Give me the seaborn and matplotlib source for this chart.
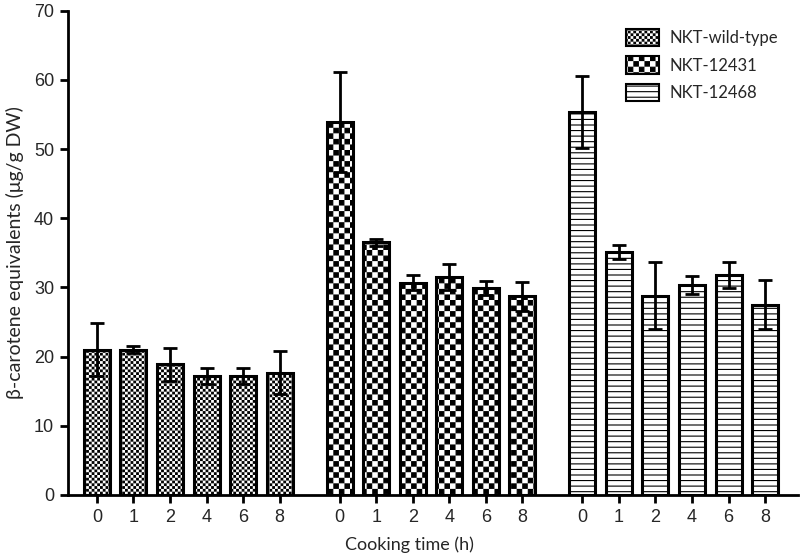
import matplotlib
matplotlib.use("Agg")
import matplotlib.hatch as mhatch
import matplotlib.pyplot as plt
import numpy as np
import pandas as pd
import seaborn as sns
from matplotlib.patches import Patch
from matplotlib.path import Path

# values (mean and SD, µg/g DW)
times = ["0", "1", "2", "4", "6", "8"]
strains = ["NKT-wild-type", "NKT-12431", "NKT-12468"]
wild_mean = [21.0, 21.0, 18.9, 17.2, 17.2, 17.7]
wild_sd = [3.8, 0.5, 2.4, 1.1, 1.2, 3.1]
m12431_mean = [53.9, 36.5, 30.7, 31.5, 29.9, 28.7]
m12431_sd = [7.2, 0.45, 1.1, 1.9, 1.0, 2.1]
m12468_mean = [55.3, 35.1, 28.8, 30.4, 31.8, 27.5]
m12468_sd = [5.2, 1.0, 4.8, 1.3, 1.9, 3.5]

HATCH_LW = 0.8


class Checker(mhatch.HatchPatternBase):
    """Filled checkerboard hatch (char -> cells per inch)."""
    char = "O"
    cells = 18

    def __init__(self, hatch, density):
        self.n = hatch.count(self.char) * self.cells
        self.num_vertices = (self.n * self.n // 2) * 5

    def set_vertices_and_codes(self, vertices, codes):
        s = 1.0 / self.n
        d = HATCH_LW / 72 / 2  # the stroke makes squares grow, so shrink them
        k = 0
        for i in range(self.n):
            for j in range(self.n):
                if (i + j) % 2:
                    continue
                x0, x1 = j * s + d, (j + 1) * s - d
                y0, y1 = i * s + d, (i + 1) * s - d
                vertices[k:k + 5] = [[x0, y0], [x1, y0], [x1, y1], [x0, y1], [x0, y0]]
                codes[k:k + 5] = [Path.MOVETO, Path.LINETO, Path.LINETO,
                                  Path.LINETO, Path.CLOSEPOLY]
                k += 5


class FineChecker(Checker):
    char = "o"
    cells = 36


mhatch._hatch_types = [mhatch.HorizontalHatch, mhatch.VerticalHatch,
                       mhatch.NorthEastHatch, mhatch.SouthEastHatch,
                       FineChecker, Checker,
                       mhatch.SmallFilledCircles, mhatch.Stars]

hatches = {"NKT-wild-type": "o", "NKT-12431": "O", "NKT-12468": "---"}

sns.set_style("ticks")
plt.rcParams["font.family"] = ["Liberation Sans", "DejaVu Sans"]
plt.rcParams["hatch.color"] = "black"
plt.rcParams["hatch.linewidth"] = HATCH_LW

means = [wild_mean, m12431_mean, m12468_mean]
sds = [wild_sd, m12431_sd, m12468_sd]
group_step = 6.64
rows = []
for g, strain in enumerate(strains):
    for i, t in enumerate(times):
        rows.append(dict(strain=strain, time=t, pos=g * group_step + i,
                         value=means[g][i], sd=sds[g][i]))
df = pd.DataFrame(rows)

fig = plt.figure(figsize=(8, 5.59), dpi=100)
ax = fig.add_axes([0.085, 0.1145, 0.9125, 0.8665])

sns.barplot(data=df, x="pos", y="value", native_scale=True, errorbar=None,
            color="white", edgecolor="black", linewidth=2.2, width=0.71, ax=ax)

for bar, strain in zip(ax.patches, df["strain"]):
    bar.set_hatch(hatches[strain])

ax.errorbar(df["pos"], df["value"], yerr=df["sd"], fmt="none", ecolor="black",
            elinewidth=2, capsize=4.8, capthick=2, zorder=3)

ax.set_xlim(-0.79, 2 * group_step + 5 + 0.9)
ax.set_ylim(0, 70)
ax.set_yticks(range(0, 71, 10))
ax.set_xticks(df["pos"])
ax.set_xticklabels(df["time"])
ax.tick_params(labelsize=13, width=2, length=6, color="black", pad=4)
for side in ["left", "bottom"]:
    ax.spines[side].set_linewidth(2)
    ax.spines[side].set_color("black")
sns.despine(ax=ax)

ax.set_xlabel("Cooking time (h)", fontsize=13, family=["Lato", "DejaVu Sans"])
ax.xaxis.set_label_coords(0.468, -0.085)
ax.set_ylabel("β-carotene equivalents (μg/g DW)", fontsize=14,
              family=["Lato", "DejaVu Sans"])
ax.yaxis.set_label_coords(-0.06, 0.5)

handles = [Patch(facecolor="white", edgecolor="black", linewidth=1.5,
                 hatch=hatches[s]) for s in strains]
fig.legend(handles, strains, loc="upper left", bbox_to_anchor=(626 / 800, 1 - 29 / 559),
           frameon=False, borderpad=0, borderaxespad=0,
           handlelength=2.0, handleheight=1.2, labelspacing=0.62,
           handletextpad=0.6, prop=dict(family=["Lato", "DejaVu Sans"], size=12))

fig.savefig("out.png", dpi=100)
